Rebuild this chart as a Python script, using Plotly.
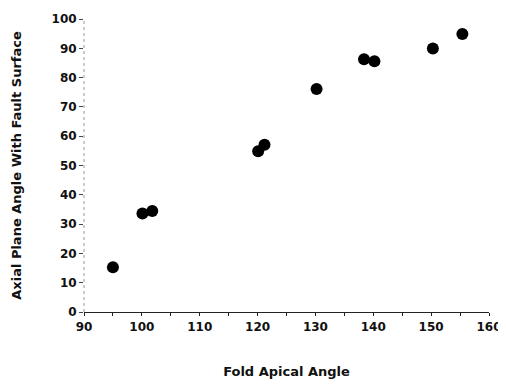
import plotly.graph_objects as go

fold_apical_angle = [95, 100.1, 101.8, 120.1, 121.2, 130.2, 138.4, 140.2, 150.3, 155.4]
axial_plane_angle = [15.3, 33.6, 34.5, 54.9, 57.1, 76.1, 86.3, 85.6, 89.9, 94.9]

x_title = "Fold Apical Angle"
y_title = "Axial Plane Angle With Fault Surface"

font_family = "DejaVu Sans, sans-serif"

fig = go.Figure()
fig.add_trace(go.Scatter(
    x=fold_apical_angle, y=axial_plane_angle, mode="markers",
    marker=dict(size=12, color="black", line=dict(width=0)),
    showlegend=False, cliponaxis=False,
))

fig.add_shape(type="line", xref="paper", yref="y", x0=0, x1=0, y0=0, y1=100,
              line=dict(color="#999999", width=1, dash="dot"), layer="below")

# page body adds an 8px offset at the top-left
fig.update_layout(
    width=498, height=373,
    margin=dict(l=76, r=17, t=11, b=69),
    paper_bgcolor="white", plot_bgcolor="white",
    font=dict(family=font_family, size=12, color="#111", weight="bold"),
    xaxis=dict(
        range=[90, 160], dtick=10, tick0=90, automargin=False,
        showgrid=False, zeroline=False, ticklabeloverflow="allow",
        showline=True, linecolor="#222", linewidth=1.2,
        ticks="outside", ticklen=3, tickcolor="#222",
        minor=dict(dtick=5, tick0=90, ticks="outside", ticklen=3, tickcolor="#222", showgrid=False),
        tickfont=dict(size=12, weight="bold"),
        title=dict(text=x_title, standoff=34, font=dict(size=13, weight="bold")),
    ),
    yaxis=dict(
        range=[0, 100], dtick=10, tick0=0, automargin=False,
        showgrid=False, zeroline=False, showline=False,
        ticks="outside", ticklen=4, tickcolor="#444",
        tickfont=dict(size=12, weight="bold"),
        title=dict(text=y_title, standoff=26, font=dict(size=13, weight="bold")),
    ),
)

fig.write_html("out.html")
